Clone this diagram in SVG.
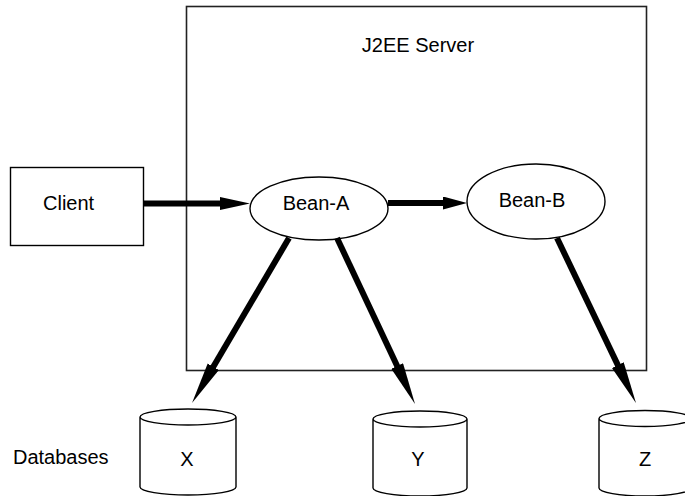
<svg xmlns="http://www.w3.org/2000/svg" width="685" height="496" viewBox="0 0 685 496">
<defs>
<style>
text{font-family:"Liberation Sans",Arial,sans-serif;font-size:20px;fill:#000}
.shape{fill:#fff;stroke:#000;stroke-width:1.4}
.box{fill:none;stroke:#222;stroke-width:1.6}
.conn{stroke:#000;stroke-width:6;fill:none}
.mid{text-anchor:middle}
</style>
<marker id="h30" markerUnits="userSpaceOnUse" markerWidth="32" markerHeight="14" refX="1" refY="6.5" orient="auto"><path d="M0,0 L30,6.5 L0,13 z" fill="#000"/></marker>
<marker id="h24" markerUnits="userSpaceOnUse" markerWidth="26" markerHeight="14" refX="1" refY="6.5" orient="auto"><path d="M0,0 L24,6.5 L0,13 z" fill="#000"/></marker>
<marker id="d42" markerUnits="userSpaceOnUse" markerWidth="44" markerHeight="14" refX="2" refY="6.5" orient="auto"><path d="M0,0 L42,6.5 L0,13 z" fill="#000"/></marker>
</defs>
<g id="server"><rect class="box" x="186.5" y="6.5" width="460" height="364"/><text class="mid" x="418" y="52">J2EE Server</text></g>
<g id="client"><rect class="shape" x="10.5" y="167.5" width="133" height="78"/><text x="43" y="210">Client</text></g>
<g id="bean-a"><ellipse class="shape" cx="319" cy="208.5" rx="69" ry="31.5"/><text class="mid" x="316" y="210">Bean-A</text></g>
<g id="bean-b"><ellipse class="shape" cx="536" cy="201.5" rx="69" ry="37.5"/><text class="mid" x="532" y="207">Bean-B</text></g>
<g id="db-x"><path class="shape" d="M140,417 V487 A48,8 0 0 0 236,487 V417 A48,8 0 0 0 140,417 A48,8 0 0 0 236,417"/><text class="mid" x="187" y="466">X</text></g>
<g id="db-y"><path class="shape" d="M373,419 V488 A47,8 0 0 0 467,488 V419 A47,8 0 0 0 373,419 A47,8 0 0 0 467,419"/><text class="mid" x="418" y="466">Y</text></g>
<g id="db-z"><path class="shape" d="M599,418.5 V488 A46,8 0 0 0 691,488 V418.5 A46,8 0 0 0 599,418.5 A46,8 0 0 0 691,418.5"/><text class="mid" x="645" y="466">Z</text></g>
<g id="label"><text x="13" y="464">Databases</text></g>
<g id="connectors">
<line class="conn" x1="143" y1="203.5" x2="221" y2="203.5" marker-end="url(#h30)"/>
<line class="conn" x1="388" y1="203" x2="444" y2="203" marker-end="url(#h24)"/>
<line class="conn" x1="289" y1="238" x2="212.3" y2="368.5" marker-end="url(#d42)"/>
<line class="conn" x1="337" y1="238" x2="398" y2="367.8" marker-end="url(#d42)"/>
<line class="conn" x1="557" y1="238" x2="618.7" y2="366.9" marker-end="url(#d42)"/>
</g>
</svg>
